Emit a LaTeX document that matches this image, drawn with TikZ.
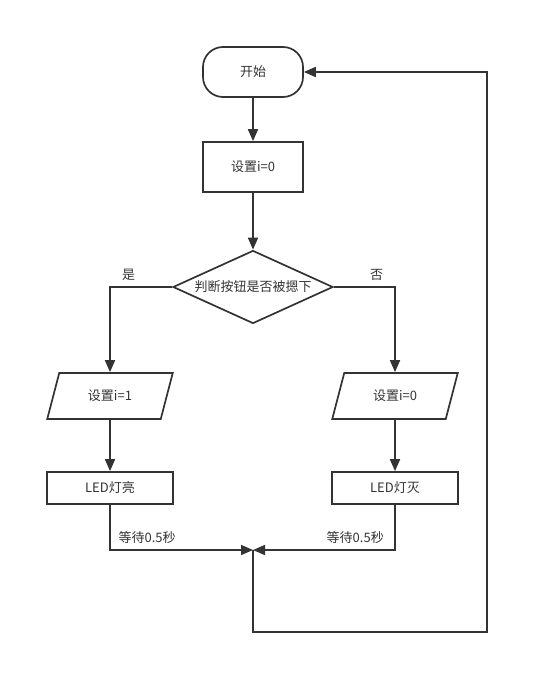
\documentclass[tikz,border=0pt]{standalone}
\usepackage{fontspec}
\setmainfont{Noto Sans CJK SC}
\usetikzlibrary{shapes.geometric}
\usetikzlibrary{arrows.meta}
\definecolor{ink}{HTML}{333333}

\begin{document}
\begin{tikzpicture}[x=1pt,y=-1pt,
  every node/.style={font=\fontsize{13}{15}\selectfont, text=ink},
  line/.style={draw=ink, line width=1.7pt},
  arr/.style={line, -{Triangle[length=12pt,width=10pt]}},
  term/.style={line, rounded corners=20pt, minimum width=100pt, minimum height=50pt},
  procbox/.style={line, minimum width=100pt, minimum height=50pt},
  iobox/.style={line, trapezium, trapezium left angle=72, trapezium right angle=108,
    trapezium stretches, minimum width=126pt, minimum height=46pt},
  decide/.style={line, diamond, aspect=2.2, inner sep=0pt, minimum width=160pt, minimum height=73pt}]
\useasboundingbox (0,0) rectangle (548,695);
%%%%%%%%%
\node [term] (start) at (253,72) {开始};
\node [procbox] (set0) at (253,167) {设置i=0};
\node [decide] (press) at (253,287) {判断按钮是否被摁下};
\node [iobox] (seton) at (110,396) {设置i=1};
\node [iobox] (setoff) at (395,396) {设置i=0};
\node [procbox, minimum width=126pt, minimum height=32pt] (ledon) at (110,488) {LED灯亮};
\node [procbox, minimum width=126pt, minimum height=32pt] (ledoff) at (395,488) {LED灯灭};
\coordinate (join) at (253,550);
\coordinate (loopL) at (253,632);
\coordinate (loopR) at (487,632);
%%%%%%%%%
\draw [arr] (start) -- (set0);
\draw [arr] (set0) -- (press);
\draw [arr] (press) -| node [pos=0.35, above=2pt] {是} (seton);
\draw [arr] (press) -| node [pos=0.35, above=2pt] {否} (setoff);
\draw [arr] (seton) -- (ledon);
\draw [arr] (setoff) -- (ledoff);
\draw [arr] (ledon) |- node [pos=0.63, above=2pt] {等待0.5秒} (join);
\draw [arr] (ledoff) |- node [pos=0.64, above=2pt] {等待0.5秒} (join);
% back to the start
\draw [arr] (join) -- (loopL) -- (loopR) |- (start);
\end{tikzpicture}
\end{document}
